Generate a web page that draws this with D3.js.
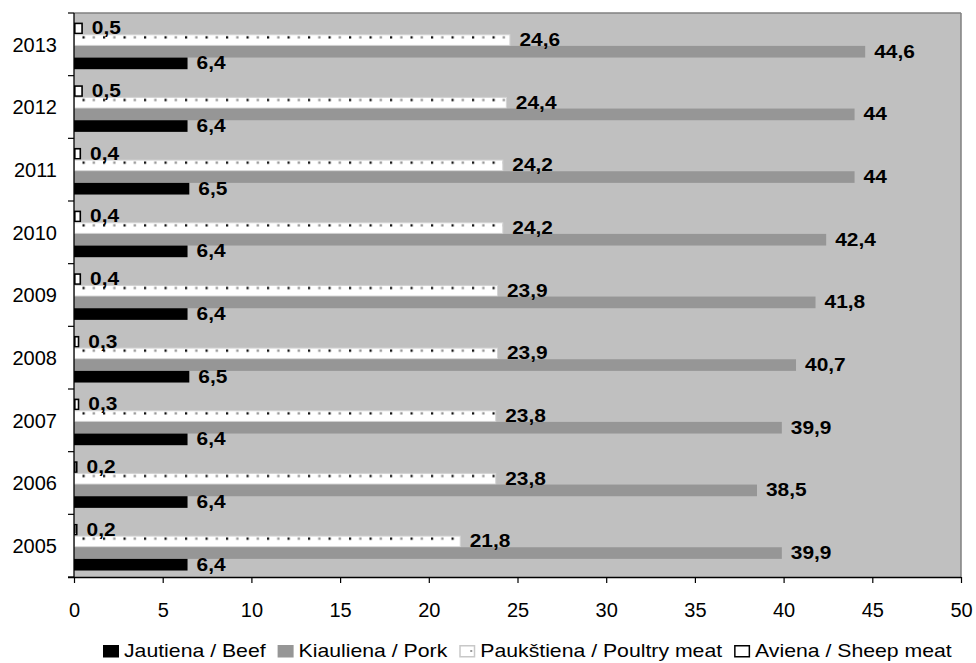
<!DOCTYPE html>
<html><head><meta charset="utf-8">
<script src="https://cdn.jsdelivr.net/npm/d3@7"></script>
<style>
html,body{margin:0;padding:0;background:#fff;}
svg{display:block;font-family:"Liberation Sans",Arial,sans-serif;}
</style></head>
<body>
<svg id="c" width="976" height="663"></svg>
<script>
const years = ["2005","2006","2007","2008","2009","2010","2011","2012","2013"];
const beef = [6.4, 6.4, 6.4, 6.5, 6.4, 6.4, 6.5, 6.4, 6.4];
const pork = [39.9, 38.5, 39.9, 40.7, 41.8, 42.4, 44, 44, 44.6];
const poultry = [21.8, 23.8, 23.8, 23.9, 23.9, 24.2, 24.2, 24.4, 24.6];
const sheep = [0.2, 0.2, 0.3, 0.3, 0.4, 0.4, 0.4, 0.5, 0.5];
const xTicks = [0,5,10,15,20,25,30,35,40,45,50];
const seriesNames = ["Jautiena / Beef","Kiauliena / Pork","Paukštiena / Poultry meat","Aviena / Sheep meat"];

const svg = d3.select("#c");
const L = 74, R = 961, T = 13, B = 577;

const x = d3.scaleLinear().domain([0,50]).range([L,R]);
const y = d3.scaleBand().domain(years.slice().reverse()).range([T,B]).padding(0);
const inner = d3.scaleBand().domain(["sheep","poultry","pork","beef"]).range([9.6,56.2]).padding(0);

const defs = svg.append("defs");
const pat = defs.append("pattern").attr("id","dots").attr("patternUnits","userSpaceOnUse")
  .attr("x", L + 8.5).attr("y", T).attr("width", 20.5).attr("height", y.step());
pat.append("rect").attr("width",20.5).attr("height",y.step()).attr("fill","#fff");
pat.append("rect").attr("x",0).attr("y",inner("poultry")+2).attr("width",2.2).attr("height",2.2).attr("fill","#000");
pat.append("rect").attr("x",10.25).attr("y",inner("poultry")+2).attr("width",2.2).attr("height",2.2).attr("fill","#8a8a8a");

// plot background
svg.append("rect").attr("x",L).attr("y",T).attr("width",R-L).attr("height",B-T).attr("fill","#c0c0c0");
svg.append("line").attr("x1",L).attr("x2",R).attr("y1",T).attr("y2",T).attr("stroke","#808080").attr("stroke-width",1.5);
svg.append("line").attr("x1",R).attr("x2",R).attr("y1",T).attr("y2",B).attr("stroke","#808080").attr("stroke-width",1.5);

const rows = years.map((yr,i)=>({year:yr, beef:beef[i], pork:pork[i], poultry:poultry[i], sheep:sheep[i]}));
const styles = {
  sheep:{fill:"#fff", stroke:"#000", sw:1.6},
  poultry:{fill:"url(#dots)", stroke:"#d4d4d4", sw:1},
  pork:{fill:"#969696", stroke:"none", sw:0},
  beef:{fill:"#000", stroke:"none", sw:0}
};
const keys = ["sheep","poultry","pork","beef"];
const fmt = v => String(v).replace(".", ",");

keys.forEach(k=>{
  const s = styles[k];
  const off = s.stroke!=="none" ? s.sw/2 : 0;
  svg.append("g").selectAll("rect").data(rows).join("rect")
    .attr("x", x(0)+off)
    .attr("y", d=>y(d.year)+inner(k)+off)
    .attr("width", d=>Math.max(0, x(d[k])-x(0)-off*2))
    .attr("height", inner.bandwidth()-off*2)
    .attr("fill", s.fill).attr("stroke", s.stroke).attr("stroke-width", s.sw);
});

// data labels
keys.forEach(k=>{
  svg.append("g").selectAll("g").data(rows).join("g")
    .attr("transform", d=>`translate(${x(d[k])+9},${y(d.year)+inner(k)+inner.bandwidth()/2+5.8}) scale(1.1,1)`)
    .append("text").attr("font-size",19).attr("font-weight","bold").attr("fill","#000")
    .text(d=>fmt(d[k]));
});

// x axis
const xa = svg.append("g").attr("transform",`translate(0,${B})`)
  .call(d3.axisBottom(x).tickValues(xTicks).tickSize(6).tickFormat(d=>String(d)));
xa.select(".domain").attr("stroke","#000").attr("stroke-width",1.3).attr("d",`M${L-6},0.5H${R}`);
xa.selectAll(".tick line").attr("stroke","#000").attr("stroke-width",1.2);
xa.selectAll(".tick text").attr("font-size",20).attr("font-family","Liberation Sans, Arial, sans-serif")
  .attr("fill","#000").attr("dy","0.71em").attr("y",26);

// y axis
const ya = svg.append("g");
ya.append("line").attr("x1",L).attr("x2",L).attr("y1",T).attr("y2",B).attr("stroke","#000").attr("stroke-width",1.3);
const bounds = years.map(yr=>y(yr)).concat([B]);
ya.selectAll("line.tk").data(bounds).join("line").attr("class","tk")
  .attr("x1",L-6).attr("x2",L).attr("y1",d=>d).attr("y2",d=>d).attr("stroke","#000").attr("stroke-width",1.2);
ya.selectAll("text").data(years).join("text")
  .attr("x",57).attr("y",d=>y(d)+y.bandwidth()/2+7.3).attr("text-anchor","end")
  .attr("font-size",20).attr("fill","#000").text(d=>d);

// legend
const leg = svg.append("g");
const swFill = ["#000","#969696","#fff","#fff"];
const swStroke = ["none","none","#c8c8c8","#000"];
let lx = 103;
const sc = 1.18;
seriesNames.forEach((n,i)=>{
  const g = leg.append("g");
  const o = swStroke[i]!=="none" ? 0.75 : 0;
  g.append("rect").attr("x",lx+o).attr("y",645+o)
    .attr("width",16-2*o).attr("height",12.5-2*o)
    .attr("fill",swFill[i]).attr("stroke",swStroke[i]).attr("stroke-width",1.5);
  if(i===2){
    g.append("rect").attr("x",lx+11).attr("y",650).attr("width",2).attr("height",2).attr("fill","#999");
  }
  const tg = g.append("g").attr("transform",`translate(${lx+21},657) scale(${sc},1)`);
  const t = tg.append("text").attr("font-size",18).attr("fill","#000").text(n);
  const w = t.node().getComputedTextLength()*sc;
  lx = lx + 21 + w + 12;
});
</script>
</body></html>
